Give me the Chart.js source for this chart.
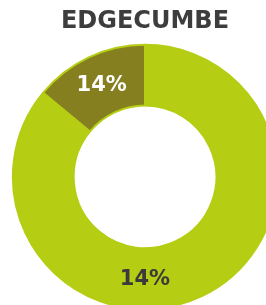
<!DOCTYPE html>
<html>
<head>
<meta charset="utf-8">
<script src="https://cdn.jsdelivr.net/npm/chart.js@4"></script>
<style>
  html, body { margin: 0; padding: 0; background: #fff; overflow: hidden; }
  #wrap { position: absolute; left: 0; top: 0; width: 290px; height: 310px; }
</style>
</head>
<body>
<div id="wrap"><canvas id="chart"></canvas></div>
<script>
const categories = ["Other", "Edgecumbe"];
const values = [86, 14];
const valueLabels = ["14%", "14%"];
const colors = ["#b5cd12", "#867f1f"];
const labelColors = ["#3b3b3b", "#ffffff"];

// the big slice carries its label at the bottom of the ring
const labelAngles = [Math.PI / 2, null];

const sliceLabels = {
  id: "sliceLabels",
  afterDatasetsDraw(chart) {
    const ctx = chart.ctx;
    const meta = chart.getDatasetMeta(0);
    ctx.save();
    ctx.font = "bold 21px 'DejaVu Sans'";
    ctx.textAlign = "center";
    ctx.textBaseline = "middle";
    meta.data.forEach((arc, i) => {
      const p = arc.getProps(["x", "y", "startAngle", "endAngle", "innerRadius", "outerRadius"], true);
      const a = labelAngles[i] != null ? labelAngles[i] : (p.startAngle + p.endAngle) / 2;
      const r = (p.innerRadius + p.outerRadius) / 2;
      ctx.fillStyle = labelColors[i];
      ctx.fillText(valueLabels[i], p.x + r * Math.cos(a), p.y + r * Math.sin(a) + 1);
    });
    ctx.restore();
  }
};

new Chart(document.getElementById("chart"), {
  type: "doughnut",
  data: {
    labels: categories,
    datasets: [{
      data: values,
      backgroundColor: colors,
      borderColor: "#b5cd12",
      borderWidth: 2,
      hoverOffset: 0
    }]
  },
  options: {
    responsive: true,
    maintainAspectRatio: false,
    animation: false,
    cutout: "54%",
    layout: { padding: 0 },
    plugins: {
      legend: { display: false },
      tooltip: { enabled: false },
      title: {
        display: true,
        text: "EDGECUMBE",
        color: "#3d3d3d",
        font: { family: "'DejaVu Sans'", size: 24, weight: "bold", lineHeight: 1.2 },
        padding: { top: 7, bottom: 8 }
      }
    }
  },
  plugins: [sliceLabels]
});
</script>
</body>
</html>
